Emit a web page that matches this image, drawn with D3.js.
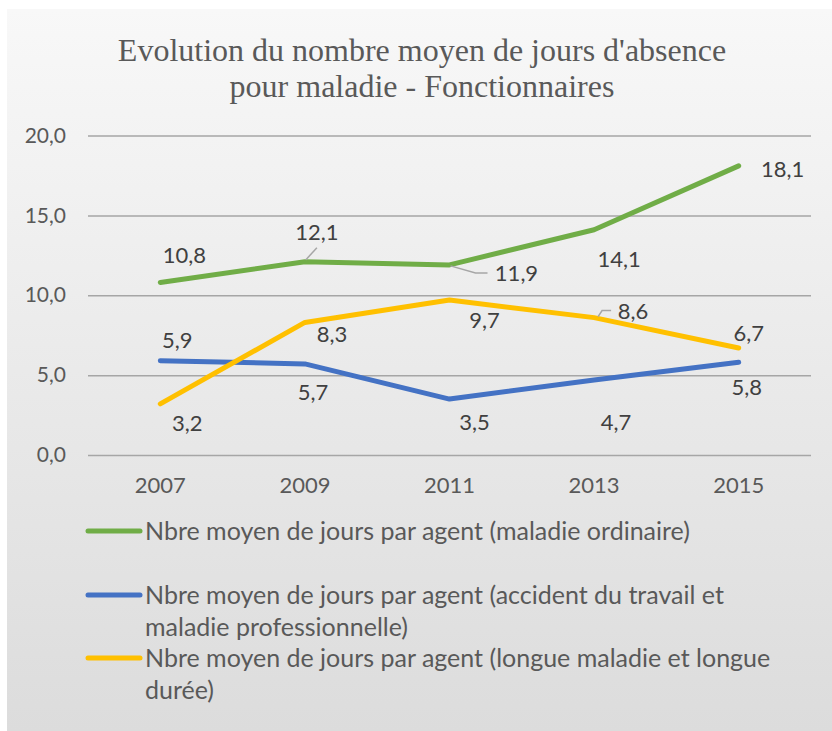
<!DOCTYPE html>
<html>
<head>
<meta charset="utf-8">
<script src="https://cdn.jsdelivr.net/npm/d3@7"></script>
<style>
  body { margin: 0; background: #fff; }
  svg { display: block; }
</style>
</head>
<body>
<svg id="chart"></svg>
<script>
// data
const years = ['2007', '2009', '2011', '2013', '2015'];
const ordinaire = [10.8, 12.1, 11.9, 14.1, 18.1];
const accident = [5.9, 5.7, 3.5, 4.7, 5.8];
const longue = [3.2, 8.3, 9.7, 8.6, 6.7];
const yTicks = [0, 5, 10, 15, 20];
const titleLines = ["Evolution du nombre moyen de jours d'absence", "pour maladie - Fonctionnaires"];
const legendLabels = [
    ['Nbre moyen de jours par agent (maladie ordinaire)'],
    ['Nbre moyen de jours par agent (accident du travail et', 'maladie professionnelle)'],
    ['Nbre moyen de jours par agent (longue maladie et longue', 'durée)']
];

// label placement (pixels from the point), leader line where excel drew one
const labelOffsets = [
    [[24, -27], [12, -30, true], [67, 8, true], [25, 29], [44, 3]],
    [[17, -21], [8, 28], [25, 23], [22, 42], [8, 25]],
    [[27, 19], [27, 12], [35, 20], [39, -7, true], [10, -15]]
];

const series = [
    {name: legendLabels[0], values: ordinaire, color: '#70ad47'},
    {name: legendLabels[1], values: accident, color: '#4472c4'},
    {name: legendLabels[2], values: longue, color: '#ffc000'}
];

const width = 832, height = 731;
const margin = {top: 135.5, right: 21, bottom: 276, left: 88};
const sans = 'Lato, "Open Sans", sans-serif';

const svg = d3.select('#chart')
    .attr('width', width)
    .attr('height', height);

// background gradient
const grad = svg.append('defs').append('linearGradient')
    .attr('id', 'bg')
    .attr('x1', 0).attr('y1', 0).attr('x2', 0).attr('y2', 1);
grad.append('stop').attr('offset', '0%').attr('stop-color', '#f8f8f8');
grad.append('stop').attr('offset', '100%').attr('stop-color', '#dcdcdc');

svg.append('rect')
    .attr('x', 7).attr('y', 9)
    .attr('width', width - 7).attr('height', height - 9)
    .attr('fill', 'url(#bg)');

// title
svg.append('text')
    .attr('text-anchor', 'middle')
    .attr('font-family', '"Liberation Serif", "Times New Roman", serif')
    .attr('font-size', '32px')
    .attr('fill', '#595959')
    .selectAll('tspan')
    .data(titleLines)
    .join('tspan')
    .attr('x', 422)
    .attr('y', (d, i) => 61 + i * 36)
    .text(d => d);

const xScale = d3.scaleBand()
    .domain(years)
    .range([margin.left, width - margin.right]);

const yScale = d3.scaleLinear()
    .domain([0, 20])
    .range([height - margin.bottom, margin.top]);

const fmt = v => d3.format('.1f')(v).replace('.', ',');
const xPos = d => xScale(d) + xScale.bandwidth() / 2;

// gridlines + y labels
const yAxis = d3.axisLeft(yScale)
    .tickValues(yTicks)
    .tickSize(-(width - margin.right - margin.left))
    .tickPadding(22)
    .tickFormat(fmt);

const yAxisG = svg.append('g')
    .attr('transform', `translate(${margin.left},0)`)
    .call(yAxis);
yAxisG.select('.domain').remove();
yAxisG.selectAll('line').attr('stroke', '#a6a6a6').attr('stroke-width', 1.5);
yAxisG.selectAll('text')
    .attr('font-family', sans)
    .attr('font-size', '21px')
    .attr('fill', '#595959');

// x labels
const xAxis = d3.axisBottom(xScale).tickSize(0).tickPadding(22);
const xAxisG = svg.append('g')
    .attr('transform', `translate(0,${height - margin.bottom})`)
    .call(xAxis);
xAxisG.select('.domain').remove();
xAxisG.selectAll('text')
    .attr('font-family', sans)
    .attr('font-size', '22px')
    .attr('fill', '#595959');

// lines
const line = d3.line()
    .x((d, i) => xPos(years[i]))
    .y(d => yScale(d));

svg.append('g')
    .selectAll('path')
    .data(series)
    .join('path')
    .attr('d', d => line(d.values))
    .attr('fill', 'none')
    .attr('stroke', d => d.color)
    .attr('stroke-width', 5)
    .attr('stroke-linecap', 'round')
    .attr('stroke-linejoin', 'round');

// data labels
series.forEach((s, si) => {
    const g = svg.append('g');
    s.values.forEach((v, i) => {
        const px = xPos(years[i]), py = yScale(v);
        const [dx, dy, leader] = labelOffsets[si][i];
        const lx = px + dx, ly = py + dy;
        if (leader) {
            let pts;
            if (dy < -20) {
                pts = [[px + 1, py - 2], [lx, ly + 16]];
            } else if (dx > 50) {
                pts = [[px + 1, py + 1], [lx - 41, ly], [lx - 29, ly]];
            } else {
                pts = [[px + 4, py - 1], [px + 8, ly], [lx - 22, ly]];
            }
            g.append('path')
                .attr('d', d3.line()(pts))
                .attr('fill', 'none')
                .attr('stroke', '#a6a6a6')
                .attr('stroke-width', 1.5);
        }
        g.append('text')
            .attr('x', lx)
            .attr('y', ly)
            .attr('dy', '0.36em')
            .attr('text-anchor', 'middle')
            .attr('font-family', sans)
            .attr('font-size', '22px')
            .attr('fill', '#404040')
            .text(fmt(v));
    });
});

// legend
const legendY = [531, 595, 658];
const legend = svg.append('g');
series.forEach((s, i) => {
    legend.append('line')
        .attr('x1', 88).attr('x2', 140)
        .attr('y1', legendY[i]).attr('y2', legendY[i])
        .attr('stroke', s.color)
        .attr('stroke-width', 5)
        .attr('stroke-linecap', 'round');
    legend.append('text')
        .attr('font-family', sans)
        .attr('font-size', '25px')
        .attr('fill', '#595959')
        .selectAll('tspan')
        .data(s.name)
        .join('tspan')
        .attr('x', 145)
        .attr('y', (d, j) => legendY[i] + j * 32)
        .attr('dy', '0.36em')
        .text(d => d);
});
</script>
</body>
</html>
